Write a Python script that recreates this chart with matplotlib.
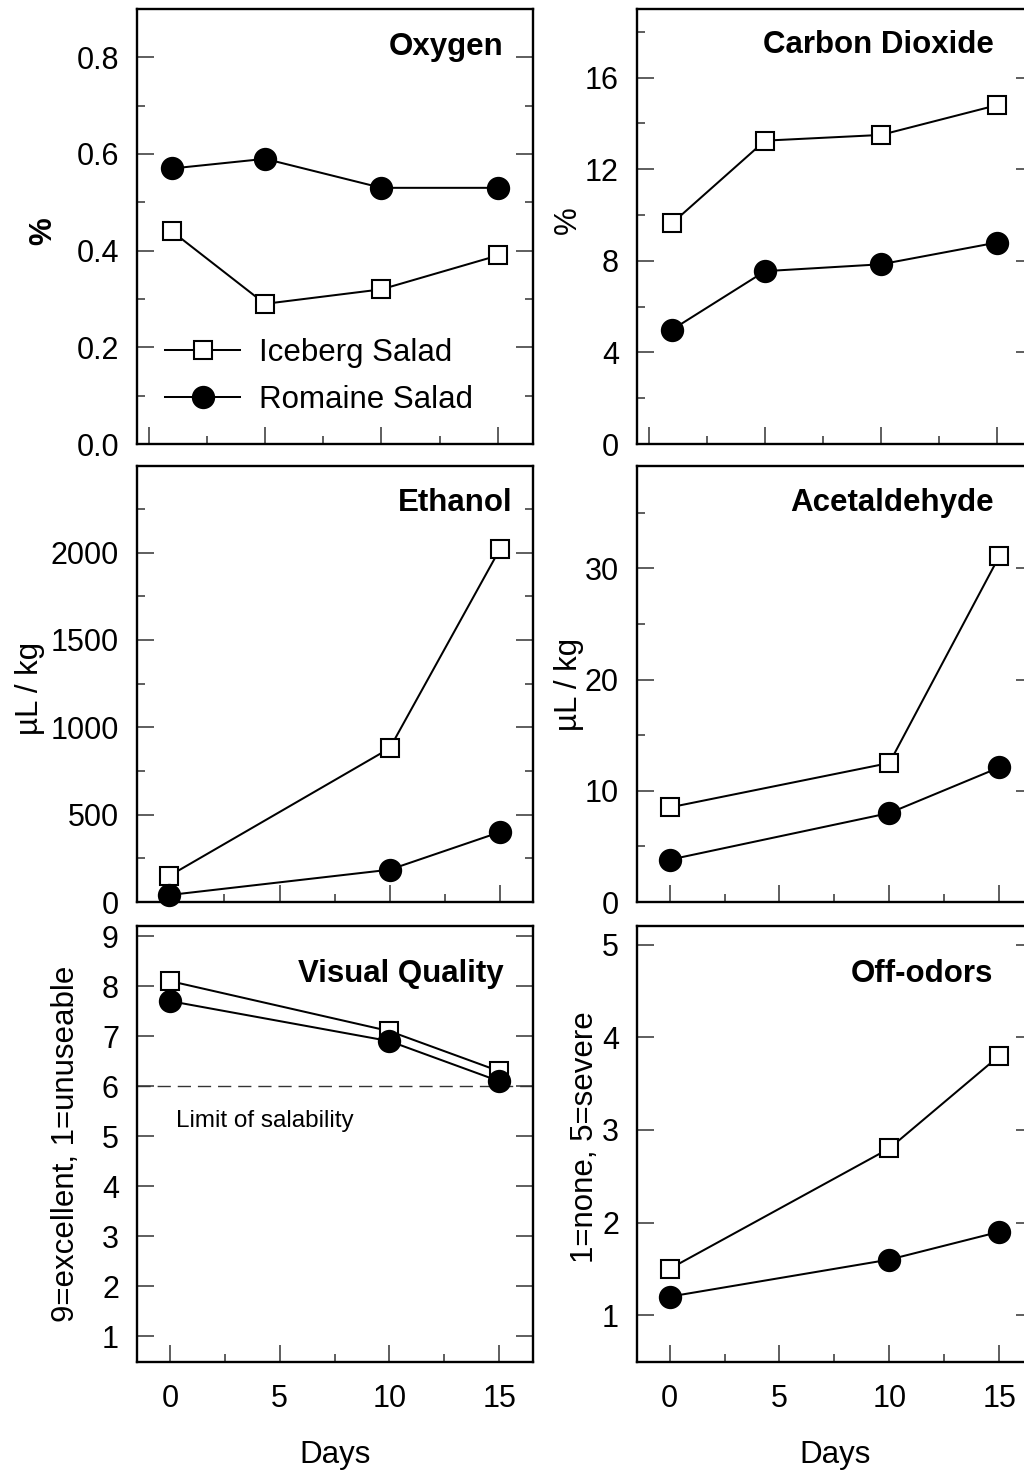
import matplotlib
matplotlib.use('Agg')
import matplotlib.pyplot as plt
from matplotlib.ticker import MultipleLocator, NullLocator, FormatStrFormatter

plt.rcParams['font.family'] = ['Liberation Sans', 'DejaVu Sans']

# ---------------- data ----------------
days_gas = [1, 5, 10, 15]
days_vol = [0, 10, 15]
x_ticks = [0, 5, 10, 15]
series_labels = ['Iceberg Salad', 'Romaine Salad']

oxygen_iceberg = [0.44, 0.29, 0.32, 0.39]
oxygen_romaine = [0.57, 0.59, 0.53, 0.53]
co2_iceberg = [9.65, 13.25, 13.5, 14.8]
co2_romaine = [5.0, 7.55, 7.85, 8.8]
ethanol_iceberg = [150, 880, 2020]
ethanol_romaine = [40, 185, 400]
acet_iceberg = [8.5, 12.5, 31.1]
acet_romaine = [3.8, 8.0, 12.1]
visual_iceberg = [8.1, 7.1, 6.3]
visual_romaine = [7.7, 6.9, 6.1]
odor_iceberg = [1.5, 2.8, 3.8]
odor_romaine = [1.2, 1.6, 1.9]
salability_limit = 6
salability_text = 'Limit of salability'

W, H = 1024, 1472
fig = plt.figure(figsize=(W / 100, H / 100), dpi=100)


def pos(l, t, r, b):
    return [l / W, 1 - b / H, (r - l) / W, (b - t) / H]


cols = [(137, 533), (637, 1033)]
rows = [(9, 444), (466, 902), (926, 1361.5)]

FS = 22.5
TFS = 22


def make_ax(col, row, xlim, ylim, ymaj, ymin, xlabels=False):
    l, r = cols[col]
    t, b = rows[row]
    ax = fig.add_axes(pos(l, t, r, b))
    ax.set_xlim(*xlim)
    ax.set_ylim(*ylim)
    ax.xaxis.set_major_locator(MultipleLocator(5))
    ax.xaxis.set_minor_locator(MultipleLocator(2.5))
    ax.yaxis.set_major_locator(MultipleLocator(ymaj))
    if ymin:
        ax.yaxis.set_minor_locator(MultipleLocator(ymin))
    else:
        ax.yaxis.set_minor_locator(NullLocator())
    ax.tick_params(axis='both', which='both', direction='in', top=False,
                   right=True, labelsize=TFS, width=1.1, color='#333333')
    ax.tick_params(which='major', length=12)
    ax.tick_params(which='minor', length=5.5)
    ax.tick_params(axis='y', pad=13)
    ax.tick_params(axis='x', pad=16.5, labelbottom=xlabels)
    for s in ax.spines.values():
        s.set_linewidth(1.7)
    return ax


def draw(ax, x, ice, rom):
    l1, = ax.plot(x, ice, '-', color='black', lw=1.45, marker='s', ms=12.5,
                  mfc='white', mec='black', mew=1.5, zorder=3, clip_on=False)
    l2, = ax.plot(x, rom, '-', color='black', lw=1.45, marker='o', ms=15.3,
                  mfc='black', mec='black', mew=1.5, zorder=4, clip_on=False)
    return l1, l2


def title(ax, text, x, y):
    ax.text(x, y, text, transform=ax.transAxes, ha='right', va='baseline',
            fontsize=FS, fontweight='bold')


def ylabel(ax, text, x, y, bold=False):
    ax.set_ylabel(text, fontsize=FS, va='center',
                  fontweight='bold' if bold else 'normal')
    ax.yaxis.set_label_coords(x, y)


# Oxygen
ax1 = make_ax(0, 0, (-0.5, 16.51), (0, 0.9), 0.2, 0.1)
h1, h2 = draw(ax1, days_gas, oxygen_iceberg, oxygen_romaine)
title(ax1, 'Oxygen', 0.925, 0.894)
ylabel(ax1, '%', -0.237, 0.49, bold=True)
ax1.yaxis.set_major_formatter(FormatStrFormatter('%.1f'))
ax1.legend([h1, h2], series_labels, loc='center left',
           bbox_to_anchor=(0.071, 0.156), frameon=False, handlelength=2.4,
           handletextpad=0.62, labelspacing=0.55, borderpad=0,
           borderaxespad=0, fontsize=FS)

# Carbon dioxide
ax2 = make_ax(1, 0, (-0.52, 16.55), (0, 19), 4, 2)
draw(ax2, days_gas, co2_iceberg, co2_romaine)
title(ax2, 'Carbon Dioxide', 0.9, 0.899)
ylabel(ax2, '%', -0.175, 0.515)

# Ethanol
ax3 = make_ax(0, 1, (-1.47, 16.5), (0, 2495), 500, 250)
draw(ax3, days_vol, ethanol_iceberg, ethanol_romaine)
title(ax3, 'Ethanol', 0.948, 0.897)
ylabel(ax3, 'µL / kg', -0.269, 0.49)

# Acetaldehyde
ax4 = make_ax(1, 1, (-1.48, 16.53), (0, 39.2), 10, 5)
draw(ax4, days_vol, acet_iceberg, acet_romaine)
title(ax4, 'Acetaldehyde', 0.9, 0.897)
ylabel(ax4, 'µL / kg', -0.172, 0.5)

# Visual quality
ax5 = make_ax(0, 2, (-1.5, 16.54), (0.5, 9.2), 1, None, xlabels=True)
ax5.axhline(salability_limit, color='#333333', lw=1.0, dashes=(9.5, 5),
            zorder=1)
draw(ax5, days_vol, visual_iceberg, visual_romaine)
title(ax5, 'Visual Quality', 0.925, 0.872)
ax5.text(0.27, salability_limit - 0.7, salability_text, fontsize=17.5,
         ha='left', va='center')
ylabel(ax5, '9=excellent, 1=unuseable', -0.18, 0.50)
ax5.set_xlabel('Days', fontsize=FS, labelpad=18.5)

# Off-odors
ax6 = make_ax(1, 2, (-1.48, 16.53), (0.5, 5.2), 1, None, xlabels=True)
draw(ax6, days_vol, odor_iceberg, odor_romaine)
title(ax6, 'Off-odors', 0.9, 0.872)
ylabel(ax6, '1=none, 5=severe', -0.132, 0.516)
ax6.set_xlabel('Days', fontsize=FS, labelpad=18.5)

for ax in (ax1, ax2, ax3, ax4, ax5, ax6):
    ax.set_xticks(x_ticks)

fig.savefig('out.png', dpi=100)
